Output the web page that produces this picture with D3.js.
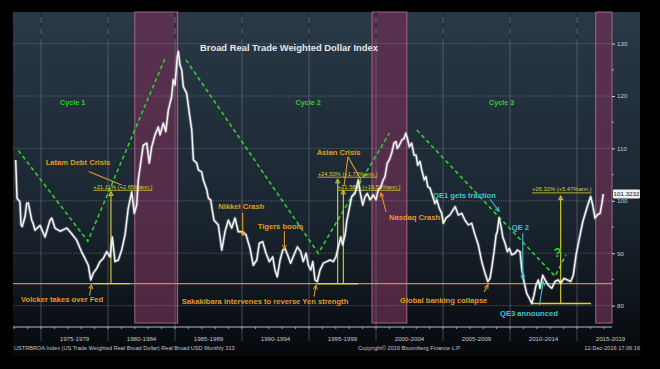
<!DOCTYPE html>
<html><head><meta charset="utf-8">
<script src="https://cdn.jsdelivr.net/npm/d3@7"></script>
<style>body{margin:0;background:#000}svg{display:block}text{font-family:"Liberation Sans",Arial,sans-serif}</style>
</head><body>
<svg id="c" width="660" height="369"></svg>
<script>
// ---- data (decimal year, index value) ----
const dates = [1973.11,1973.21,1973.43,1973.51,1973.60,1973.81,1973.93,1974.05,1974.31,1974.40,1974.55,1974.93,1975.30,1975.67,1975.80,1976.04,1976.42,1976.92,1977.29,1977.66,1978.04,1978.28,1978.53,1978.71,1978.90,1979.16,1979.40,1979.65,1979.90,1980.15,1980.32,1980.52,1980.77,1981.02,1981.27,1981.51,1981.77,1981.96,1982.14,1982.26,1982.63,1982.89,1983.08,1983.26,1983.51,1983.75,1983.88,1984.13,1984.31,1984.50,1984.75,1984.87,1985.00,1985.17,1985.25,1985.37,1985.50,1985.62,1985.87,1986.07,1986.25,1986.37,1986.62,1986.74,1986.99,1987.11,1987.37,1987.49,1987.66,1987.78,1987.91,1988.23,1988.49,1988.73,1988.98,1989.23,1989.48,1989.72,1990.05,1990.30,1990.60,1990.84,1991.10,1991.29,1991.54,1991.79,1992.04,1992.29,1992.46,1992.63,1992.84,1993.04,1993.21,1993.46,1993.63,1993.88,1994.13,1994.38,1994.57,1994.78,1994.95,1995.13,1995.28,1995.45,1995.62,1995.82,1996.07,1996.32,1996.57,1996.81,1997.01,1997.19,1997.37,1997.51,1997.69,1997.81,1998.01,1998.19,1998.43,1998.68,1998.81,1999.01,1999.18,1999.35,1999.55,1999.80,2000.00,2000.17,2000.35,2000.54,2000.67,2000.84,2000.99,2001.17,2001.34,2001.49,2001.59,2001.74,2001.92,2002.09,2002.22,2002.34,2002.49,2002.66,2002.84,2002.99,2003.11,2003.28,2003.41,2003.60,2003.73,2003.86,2004.03,2004.23,2004.40,2004.53,2004.72,2004.90,2005.02,2005.22,2005.52,2005.90,2006.14,2006.40,2006.64,2006.89,2007.14,2007.39,2007.63,2007.89,2008.13,2008.34,2008.51,2008.63,2008.81,2008.96,2009.05,2009.18,2009.33,2009.46,2009.63,2009.80,2009.95,2010.13,2010.37,2010.54,2010.75,2010.87,2011.04,2011.25,2011.44,2011.62,2011.79,2011.94,2012.11,2012.24,2012.44,2012.61,2012.86,2013.11,2013.36,2013.60,2013.78,2014.03,2014.28,2014.53,2014.72,2014.93,2015.17,2015.43,2015.65,2015.84,2016.02,2016.17,2016.34,2016.51,2016.72,2016.84,2016.96];
const values = [107.8,100.5,99.8,95.4,95.1,97.0,99.5,99.6,96.3,95.8,94.4,95.3,93.1,96.3,96.7,94.8,94.2,94.8,93.7,92.5,90.2,89.0,87.7,84.9,86.2,87.1,88.4,89.0,90.3,89.3,93.1,88.4,88.7,90.6,93.5,98.6,101.7,97.6,99.2,104.0,110.6,111.0,107.2,110.3,112.6,114.1,112.6,114.8,113.2,117.3,119.9,123.1,122.1,127.5,128.5,125.9,125.0,121.8,120.5,116.7,113.5,107.8,107.2,105.9,105.5,104.0,102.1,100.5,100.2,98.2,96.3,95.4,90.6,94.1,96.3,94.8,96.7,94.1,94.1,93.5,90.9,87.7,88.7,91.9,92.2,90.0,88.4,89.3,86.8,85.5,88.7,90.6,90.9,89.3,88.1,89.7,91.2,90.3,88.4,90.0,87.7,86.8,88.4,84.9,84.6,86.8,88.1,88.4,88.7,88.4,89.3,91.2,93.1,91.6,93.5,96.0,98.6,100.8,101.4,104.0,101.7,99.2,100.8,101.4,100.2,101.1,100.2,102.1,102.6,104.0,104.6,107.2,107.8,109.1,111.0,111.3,110.0,110.6,111.6,111.9,112.9,111.9,110.3,111.0,108.7,108.7,106.8,107.5,105.9,104.0,104.6,102.7,102.4,100.8,99.5,100.2,98.6,97.6,95.7,96.7,97.3,98.9,97.3,97.6,96.3,95.4,95.7,93.5,91.6,88.4,86.2,84.6,85.2,87.1,90.3,93.5,94.1,96.7,95.1,93.1,91.9,90.3,90.9,89.7,90.0,90.6,90.3,87.1,84.6,82.3,81.4,80.4,82.0,83.9,84.9,83.3,85.8,84.9,83.9,83.3,84.6,84.9,84.3,85.2,84.9,84.6,85.8,89.7,92.8,96.0,97.9,99.5,100.8,99.2,96.7,97.3,97.6,99.2,101.3];
const lastValueLabel = "101.3232";
const yTicks = [80,90,100,110,120,130];
const yMinorTicks = [85,95,105,115,125];
const periodStarts = [1975,1980,1985,1990,1995,2000,2005,2010,2015];
const periodLabels = ["1975-1979","1980-1984","1985-1989","1990-1994","1995-1999","2000-2004","2005-2009","2010-2014","2015-2019"];
const bandStarts = [1982.0,1999.7,2016.4];
const bandEnds = [1985.2,2002.3,2017.61];
const cycleNames = ["Cycle 1","Cycle 2","Cycle 3"];
const cycleLabelAt = [[1976.42,118.3],[1994.0,118.3],[2008.43,118.3]];
const cycleTrends = [
  [[1973.31,109.6],[1978.49,92.3],[1984.31,127.5]],
  [[1985.82,126.9],[1995.69,90.0],[2000.99,112.9]],
  [[2003.04,113.5],[2013.36,85.6],[2014.18,89.7]]
];
const supportLevel = 84.2;
// measurements: base start, base end, base level, vertical date, top value, label, label date, label value
const measures = [
  {x0:1978.88,x1:1981.64,base:84.2,vx:1980.22,top:101.6,label:"+21.11% (+2.65%ann.)",lx:1978.90,ly:102.3},
  {x0:1995.57,x1:1998.66,base:84.2,vx:1997.14,top:104.0,label:"+24.50% (+1.73%ann.)",lx:1995.65,ly:104.8},
  {x0:1995.57,x1:1998.66,base:84.2,vx:1997.56,top:101.9,label:"+21.58% (+19.53%ann.)",lx:1997.14,ly:102.3},
  {x0:2011.62,x1:2016.04,base:80.4,vx:2013.78,top:100.8,label:"+26.32% (+5.47%ann.)",lx:2011.64,ly:101.8}
];
// annotations: text, date, value, color kind, arrow from/to, arrowhead
const notes = [
  {t:"Latam Debt Crisis",x:1975.35,y:106.9,c:"o",a:[[1978.56,105.6],[1981.02,103.0]],h:false},
  {t:"Volcker takes over Fed",x:1973.51,y:80.6,c:"o",a:[[1978.62,81.9],[1978.77,84.0]],h:true},
  {t:"Sakakibara intervenes to reverse Yen strength",x:1985.5,y:80.4,c:"o",a:[[1995.37,81.7],[1995.52,83.9]],h:true},
  {t:"Nikkei Crash",x:1988.23,y:98.4,c:"o",a:[[1990.05,97.7],[1990.05,93.3]],h:true},
  {t:"Tigers boom",x:1991.17,y:94.6,c:"o",a:[[1993.16,94.2],[1993.16,90.8]],h:true},
  {t:"Asian Crisis",x:1995.57,y:108.7,c:"o",a:[[1997.91,108.4],[1997.61,102.8]],h:false},
  {t:"",x:0,y:0,c:"o",a:[[1997.91,108.4],[1998.88,104.0]],h:false},
  {t:"Nasdaq Crash",x:2000.97,y:96.4,c:"o",a:[[2000.75,97.9],[2000.37,101.5]],h:true},
  {t:"Global banking collapse",x:2001.79,y:80.5,c:"o",a:[[2008.06,82.6],[2008.36,84.0]],h:true},
  {t:"QE1 gets traction",x:2004.25,y:100.6,c:"c",a:[[2008.51,100.3],[2009.18,98.0]],h:true},
  {t:"QE 2",x:2010.13,y:94.4,c:"c",a:[[2010.95,93.8],[2010.95,85.0]],h:true},
  {t:"QE3 announced",x:2009.25,y:78.1,c:"c",a:[[2012.19,80.1],[2012.49,84.6]],h:true}
];
const questionMark = {t:"?",x:2013.55,y:89.2};

// ---- drawing ----
const svg = d3.select("#c");
const L=13,R=612,T=12,B=327;
const x = d3.scaleLinear().domain([1972.91,2017.61]).range([L,R]);
const y = d3.scaleLinear().domain([75.92,136.03]).range([B,T]);
const col = {o:"#e39a26",c:"#3ec6cf",y:"#d6d12b",g:"#2fcf2f"};

const defs = svg.append("defs");
const g1 = defs.append("linearGradient").attr("id","bg").attr("x1",0).attr("y1",0).attr("x2",0).attr("y2",1);
g1.append("stop").attr("offset","0%").attr("stop-color","#2a3947");
g1.append("stop").attr("offset","60%").attr("stop-color","#1a2530");
g1.append("stop").attr("offset","100%").attr("stop-color","#06090c");
["o","c"].forEach(k=>{
  defs.append("marker").attr("id","ah"+k).attr("viewBox","0 0 8 8").attr("refX",7).attr("refY",4)
    .attr("markerWidth",5).attr("markerHeight",5).attr("orient","auto")
    .append("path").attr("d","M1,1 L7,4 L1,7").attr("fill","none").attr("stroke",col[k]).attr("stroke-width",1.4);
});

svg.append("rect").attr("x",0).attr("y",0).attr("width",660).attr("height",369).attr("fill","#000");
svg.append("rect").attr("x",L).attr("y",T).attr("width",640-L).attr("height",356-T).attr("fill","url(#bg)");

// bands
bandStarts.forEach((s,i)=>{
  svg.append("rect").attr("x",x(s)).attr("y",T).attr("width",x(bandEnds[i])-x(s)).attr("height",B-T-4)
    .attr("fill","#6a2f52").attr("fill-opacity",0.72).attr("stroke","#b86a8c").attr("stroke-width",0.9);
});

// grid
const gridG = svg.append("g");
yTicks.forEach(v=>{
  gridG.append("line").attr("x1",L).attr("x2",R).attr("y1",y(v)).attr("y2",y(v))
    .attr("stroke","#8795a2").attr("stroke-opacity",0.55).attr("stroke-width",0.8).attr("stroke-dasharray","1.5,1");
});
periodStarts.forEach(p=>{
  gridG.append("line").attr("x1",x(p)).attr("x2",x(p)).attr("y1",T).attr("y2",341)
    .attr("stroke","#7d8994").attr("stroke-opacity",0.6).attr("stroke-width",0.8);
  gridG.append("line").attr("x1",x(p)).attr("x2",x(p)).attr("y1",T).attr("y2",40)
    .attr("stroke","#0f161d").attr("stroke-width",1).attr("stroke-dasharray","5,6");
});

// x axis
svg.append("line").attr("x1",L).attr("x2",R).attr("y1",B).attr("y2",B).attr("stroke","#b5bcc2").attr("stroke-width",1);
d3.range(1973,2018).forEach(yr=>{
  svg.append("line").attr("x1",x(yr)).attr("x2",x(yr)).attr("y1",B).attr("y2",B+2).attr("stroke","#b5bcc2").attr("stroke-width",0.8);
});
periodLabels.forEach((lab,i)=>{
  svg.append("text").attr("x",x(periodStarts[i]+2.5)).attr("y",341).attr("text-anchor","middle")
    .attr("font-size",6.2).attr("fill","#c4c8cc").text(lab);
});

// right axis
const yAxis = d3.axisRight(y).tickValues(yTicks).tickSize(3).tickPadding(2).tickFormat(d3.format("d"));
const ya = svg.append("g").attr("transform",`translate(${R},0)`).call(yAxis);
ya.select(".domain").remove();
ya.selectAll("line").attr("stroke","#c9cdd1");
ya.selectAll("text").attr("fill","#c9cdd1").attr("font-size",6.2).style("font-family",'"Liberation Sans",Arial,sans-serif');
yMinorTicks.forEach(v=>{
  svg.append("line").attr("x1",R).attr("x2",R+1.5).attr("y1",y(v)).attr("y2",y(v)).attr("stroke","#c9cdd1");
});

// support line
svg.append("line").attr("x1",L).attr("x2",R).attr("y1",y(supportLevel)).attr("y2",y(supportLevel))
  .attr("stroke","#c9961f").attr("stroke-width",1.3);

// cycle trend lines
cycleTrends.forEach(pts=>{
  svg.append("path").attr("d",d3.line().x(d=>x(d[0])).y(d=>y(d[1]))(pts))
    .attr("fill","none").attr("stroke",col.g).attr("stroke-width",1.6).attr("stroke-dasharray","4,3");
});
cycleNames.forEach((n,i)=>{
  svg.append("text").attr("x",x(cycleLabelAt[i][0])).attr("y",y(cycleLabelAt[i][1]))
    .attr("font-size",7.2).attr("font-weight","bold").attr("fill",col.g).text(n);
});

// measurement tool
measures.forEach(m=>{
  svg.append("line").attr("x1",x(m.x0)).attr("x2",x(m.x1)).attr("y1",y(m.base)).attr("y2",y(m.base))
    .attr("stroke","#dcd531").attr("stroke-width",1.4);
});
measures.forEach(m=>{
  svg.append("line").attr("x1",x(m.vx)).attr("x2",x(m.vx)).attr("y1",y(m.base)).attr("y2",y(m.top))
    .attr("stroke","#dcd531").attr("stroke-width",1.1);
  const tx=x(m.vx), ty=y(m.top);
  svg.append("path").attr("d",`M${tx},${ty-1} L${tx-2.2},${ty+3} L${tx+2.2},${ty+3}Z`)
    .attr("fill","none").attr("stroke","#dcd531").attr("stroke-width",0.9);
  const t = svg.append("text").attr("x",x(m.lx)).attr("y",y(m.ly))
    .attr("font-size",5.8).attr("fill","#d8d22c").text(m.label);
  const w = t.node().getComputedTextLength();
  svg.append("line").attr("x1",x(m.lx)).attr("x2",x(m.lx)+w).attr("y1",y(m.ly)+1.5).attr("y2",y(m.ly)+1.5)
    .attr("stroke","#d8d22c").attr("stroke-width",0.8);
});

// series
const lineGen = d3.line().x((d,i)=>x(dates[i])).y(d=>y(d));
svg.append("path").attr("d",lineGen(values)).attr("fill","none").attr("stroke","#ffffff")
  .attr("stroke-opacity",0.25).attr("stroke-width",3.2).attr("stroke-linejoin","round");
svg.append("path").attr("d",lineGen(values)).attr("fill","none").attr("stroke","#f4f4f4")
  .attr("stroke-width",1.5).attr("stroke-linejoin","round");

// annotations
notes.forEach(n=>{
  const ln = svg.append("line").attr("x1",x(n.a[0][0])).attr("y1",y(n.a[0][1])).attr("x2",x(n.a[1][0])).attr("y2",y(n.a[1][1]))
    .attr("stroke",col[n.c]).attr("stroke-width",1.1);
  if(n.h) ln.attr("marker-end","url(#ah"+n.c+")");
  if(n.t) svg.append("text").attr("x",x(n.x)).attr("y",y(n.y)).attr("font-size",7.6).attr("font-weight","bold")
    .attr("fill",col[n.c]).text(n.t);
});
svg.append("text").attr("x",x(questionMark.x)).attr("y",y(questionMark.y)).attr("font-size",13).attr("font-weight","bold")
  .attr("fill",col.g).attr("text-anchor","middle").text(questionMark.t);

// title
svg.append("text").attr("x",289).attr("y",51).attr("text-anchor","middle").attr("font-size",9.4).attr("font-weight","bold")
  .attr("fill","#e6e8ea").text("Broad Real Trade Weighted Dollar Index");

// last value box
const lv = values[values.length-1];
svg.append("rect").attr("x",R+1).attr("y",y(lv)-4.5).attr("width",27).attr("height",9).attr("rx",1).attr("fill","#f2f2f2");
svg.append("text").attr("x",R+14.5).attr("y",y(lv)+2.2).attr("text-anchor","middle").attr("font-size",6.2).attr("fill","#111").text(lastValueLabel);

// footer
svg.append("text").attr("x",14).attr("y",350).attr("font-size",5.6).attr("fill","#c0c4c8")
  .text("USTRBROA Index (US Trade Weighted Real Broad Dollar) Real Broad USD  Monthly 313");
svg.append("text").attr("x",358).attr("y",350).attr("font-size",5.6).attr("fill","#c0c4c8")
  .text("Copyright\u00a9 2016 Bloomberg Finance L.P.");
svg.append("text").attr("x",640).attr("y",350).attr("text-anchor","end").attr("font-size",5.6).attr("fill","#c0c4c8")
  .text("12-Dec-2016 17:06:16");
</script>
</body></html>
